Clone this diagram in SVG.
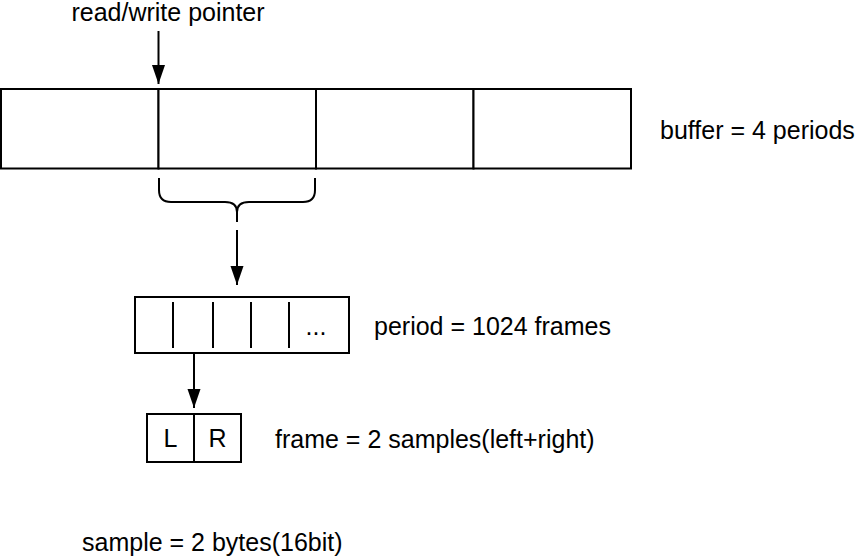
<svg xmlns="http://www.w3.org/2000/svg" width="856" height="556" viewBox="0 0 856 556">
<style>
.box{fill:#fff;stroke:#000;stroke-width:2}
.ln{fill:none;stroke:#000;stroke-width:2}
.t{font-family:"Liberation Sans",Arial,sans-serif;font-size:25px;fill:#000}
</style>
<defs>
<marker id="arr" markerUnits="userSpaceOnUse" markerWidth="20" markerHeight="14" refX="19" refY="6.5" orient="auto" viewBox="0 0 20 13">
<path d="M0,0 L19,6.5 L0,13 Z" fill="#000"/>
</marker>
</defs>
<rect width="856" height="556" fill="#fff"/>
<g id="buffer">
<rect class="box" x="1" y="89" width="157.5" height="79.5"/>
<rect class="box" x="158.5" y="89" width="157.5" height="79.5"/>
<rect class="box" x="316" y="89" width="157.5" height="79.5"/>
<rect class="box" x="473.5" y="89" width="157.5" height="79.5"/>
</g>
<g id="pointer-label"><text class="t" x="168" y="21" text-anchor="middle">read/write pointer</text></g>
<g id="buffer-label"><text class="t" x="660" y="139">buffer = 4 periods</text></g>
<g id="period">
<rect class="box" x="135" y="297" width="214" height="56"/>
<line class="ln" x1="173" y1="302" x2="173" y2="348"/>
<line class="ln" x1="213" y1="302" x2="213" y2="348"/>
<line class="ln" x1="251" y1="302" x2="251" y2="348"/>
<line class="ln" x1="289" y1="302" x2="289" y2="348"/>
<text class="t" x="316" y="335" text-anchor="middle">...</text>
</g>
<g id="period-label"><text class="t" x="374" y="335">period = 1024 frames</text></g>
<g id="frame">
<rect class="box" x="147" y="414" width="94" height="48"/>
<line class="ln" x1="194" y1="414" x2="194" y2="462"/>
<text class="t" x="170.5" y="447" text-anchor="middle">L</text>
<text class="t" x="217.5" y="447" text-anchor="middle">R</text>
</g>
<g id="frame-label"><text class="t" x="275" y="448">frame = 2 samples(left+right)</text></g>
<g id="sample-label"><text class="t" x="82" y="551">sample = 2 bytes(16bit)</text></g>
<g id="brace">
<path class="ln" d="M159,178 V190 Q159,202 171,202 H225 Q237,202 237,212 V222 M237,212 Q237,202 249,202 H303 Q315,202 315,190 V178"/>
</g>
<g id="connectors">
<line class="ln" x1="158.5" y1="31" x2="158.5" y2="84" marker-end="url(#arr)"/>
<line class="ln" x1="237" y1="230" x2="237" y2="285" marker-end="url(#arr)"/>
<line class="ln" x1="194" y1="353" x2="194" y2="408" marker-end="url(#arr)"/>
</g>
</svg>
